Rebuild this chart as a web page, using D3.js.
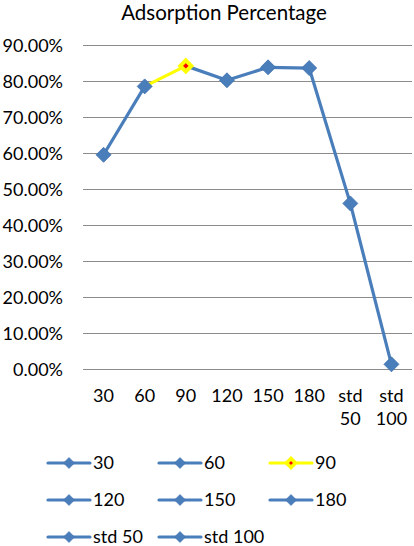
<!DOCTYPE html>
<html>
<head>
<meta charset="utf-8">
<script src="https://cdn.jsdelivr.net/npm/d3@7"></script>
<style>
  body { margin: 0; background: #fff; }
  text { font-family: Lato, "Open Sans", sans-serif; fill: #000; }
</style>
</head>
<body>
<script>
var categories = ["30", "60", "90", "120", "150", "180", "std 50", "std 100"];
var values = [0.595, 0.785, 0.842, 0.802, 0.838, 0.836, 0.46, 0.013];
var yTicks = [0, 0.1, 0.2, 0.3, 0.4, 0.5, 0.6, 0.7, 0.8, 0.9];
var highlight = "90";

var w = 414, h = 546;
var blue = "#4a7ebb";
var fontSize = 18;

var svg = d3.select("body").append("svg")
    .attr("width", w)
    .attr("height", h);

svg.append("text")
    .attr("x", 224)
    .attr("y", 20)
    .attr("text-anchor", "middle")
    .style("font-size", "20.5px")
    .text("Adsorption Percentage");

var x = d3.scaleBand().domain(categories).range([83, 412]);
var y = d3.scaleLinear().domain([0, 0.9]).range([369, 45]);

// gridlines + y labels
var yAxis = d3.axisLeft(y)
    .tickValues(yTicks)
    .tickFormat(d3.format(".2%"))
    .tickSize(-(412 - 83))
    .tickPadding(20);
var gy = svg.append("g").attr("transform", "translate(83,0)").call(yAxis);
gy.select(".domain").remove();
gy.selectAll(".tick line").attr("stroke", "#8c8c8c").attr("stroke-width", 1);
gy.selectAll(".tick text").style("font-size", fontSize + "px")
    .attr("x", -20).attr("dy", "0.36em");

// x labels (wrapped)
var gx = svg.append("g");
categories.forEach(function (c) {
    var parts = c.split(" ");
    var t = gx.append("text")
        .attr("text-anchor", "middle")
        .style("font-size", fontSize + "px");
    parts.forEach(function (p, i) {
        t.append("tspan")
            .attr("x", x(c) + x.bandwidth() / 2)
            .attr("y", 402 + i * 23)
            .text(p);
    });
});

var cx = function (d) { return x(d.c) + x.bandwidth() / 2; };
var pts = categories.map(function (c, i) { return { c: c, v: values[i] }; });

// line segments; segment leading to highlighted point is yellow
for (var i = 1; i < pts.length; i++) {
    svg.append("line")
        .attr("x1", cx(pts[i - 1])).attr("y1", y(pts[i - 1].v))
        .attr("x2", cx(pts[i])).attr("y2", y(pts[i].v))
        .attr("stroke", pts[i].c === highlight ? "#ffff00" : blue)
        .attr("stroke-width", 3.2)
        .attr("stroke-linecap", "round");
}

function diamond(r) {
    return "M0," + (-r) + "L" + r + ",0L0," + r + "L" + (-r) + ",0Z";
}

function marker(g, isHi) {
    if (isHi) {
        g.append("path").attr("d", diamond(5.5))
            .attr("fill", "#ff0000")
            .attr("stroke", "#ffff00")
            .attr("stroke-width", 4)
            .attr("stroke-linejoin", "miter");
    } else {
        g.append("path").attr("d", diamond(7.5))
            .attr("fill", blue)
            .attr("stroke", "#3f70ad")
            .attr("stroke-width", 0.8);
    }
}

svg.selectAll("g.pt")
    .data(pts)
    .enter()
    .append("g")
    .attr("class", "pt")
    .attr("transform", function (d) { return "translate(" + cx(d) + "," + y(d.v) + ")"; })
    .each(function (d) { marker(d3.select(this), d.c === highlight); });

// legend
var colX = [48, 159, 270];
var rowY = [463, 500, 537];
categories.forEach(function (c, i) {
    var lx = colX[i % 3], ly = rowY[Math.floor(i / 3)];
    var hi = c === highlight;
    var g = svg.append("g").attr("transform", "translate(" + lx + "," + ly + ")");
    g.append("line")
        .attr("x1", 0).attr("x2", 42).attr("y1", 0).attr("y2", 0)
        .attr("stroke", hi ? "#ffff00" : blue)
        .attr("stroke-width", 3.2)
        .attr("stroke-linecap", "round");
    var m = g.append("g").attr("transform", "translate(21,0)");
    if (hi) {
        m.append("path").attr("d", diamond(4.5))
            .attr("fill", "#ff0000").attr("stroke", "#ffff00").attr("stroke-width", 3.6);
    } else {
        m.append("path").attr("d", diamond(5.5))
            .attr("fill", blue).attr("stroke", "#3f70ad").attr("stroke-width", 0.6);
    }
    g.append("text")
        .attr("x", 45)
        .attr("y", 0)
        .attr("dy", "0.36em")
        .style("font-size", fontSize + "px")
        .text(c);
});
</script>
</body>
</html>
